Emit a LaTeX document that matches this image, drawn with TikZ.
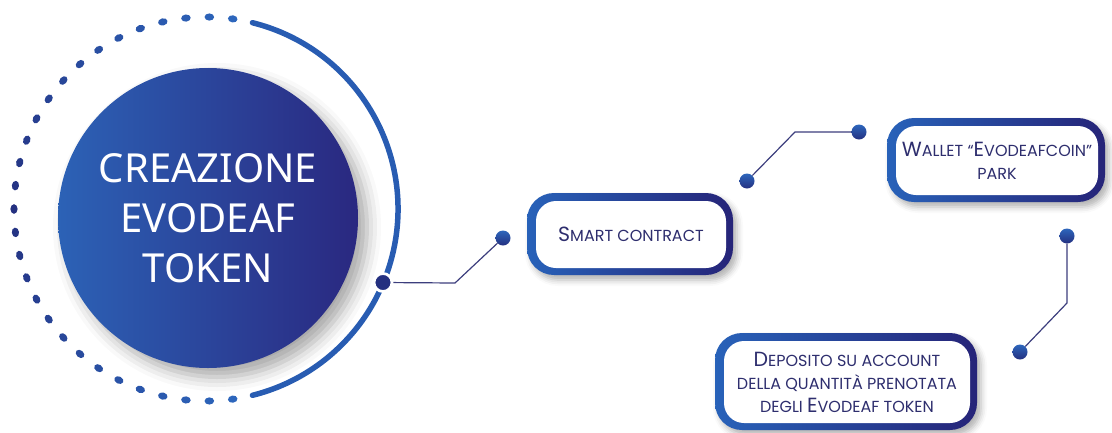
\documentclass[tikz,border=0pt]{standalone}
\usepackage{fontspec}
\usetikzlibrary{shadows.blur}
\newfontfamily\circfont{Noto Sans}
\newfontfamily\boxfont{Poppins}
\definecolor{cblue}{RGB}{44,98,182}
\definecolor{cnavy}{RGB}{42,40,128}
\definecolor{bblue}{RGB}{40,98,185}
\definecolor{bnavy}{RGB}{38,36,120}
\definecolor{arcblue}{RGB}{40,92,178}
\definecolor{dblue}{RGB}{45,102,188}
\definecolor{dnavy}{RGB}{36,48,128}
\definecolor{tnavy}{RGB}{46,46,110}
\definecolor{lnavy}{RGB}{60,62,125}
\newcommand\smc[1]{{\fontsize{16}{18}\selectfont\MakeUppercase{#1}}}
\begin{document}
\begin{tikzpicture}[x=1pt,y=-1pt,
  boxout/.style={rectangle, rounded corners=27pt, inner sep=0pt, left color=bblue, right color=bnavy,
    blur shadow={shadow xshift=4pt, shadow yshift=-5pt, shadow blur radius=6pt, shadow opacity=30}},
  boxin/.style={rectangle, rounded corners=20pt, inner sep=0pt, fill=white, text=tnavy, align=center,
    font=\boxfont\fontsize{20.5}{23}\selectfont},
  dotn/.style={circle, minimum size=15pt, inner sep=0pt, top color=dblue, bottom color=dnavy},
  conn/.style={draw=lnavy, line width=1.2pt}]
\useasboundingbox (0,0) rectangle (1112,432);
% main circle
\node[circle, minimum size=300pt, inner sep=0pt, left color=cblue, right color=cnavy,
  blur shadow={shadow xshift=9pt, shadow yshift=-9pt, shadow blur radius=14pt, shadow opacity=35},
  text=white, align=center, font=\circfont\fontsize{40}{50}\selectfont] (main) at (208,218)
  {CREAZIONE\\EVODEAF\\TOKEN};
% dotted ring
\foreach \i in {0,...,28} {
  \pgfmathsetmacro\ang{82+7*\i}
  \pgfmathtruncatemacro\t{abs(\ang-180)/98*100}
  \fill[dblue!\t!dnavy, shift={(206,209)}, rotate=-\ang] (192,0) ellipse (3.6 and 4.8);
}
% solid arc
\draw[arcblue, line width=5.5pt, line cap=round] (206,209) ++(-76:192) arc (-76:76:192);
% knob
\node[circle, fill=dnavy, draw=white, line width=2.8pt, minimum size=18pt, inner sep=0pt] (k) at (383,282.5) {};
% boxes
\node[boxout, minimum width=206pt, minimum height=82pt] (sco) at (630,234) {};
\node[boxin, minimum width=190pt, minimum height=67pt] (sc) at (631,234.5) {S\smc{mart contract}};
\node[boxout, minimum width=218pt, minimum height=84pt] (wo) at (996,160) {};
\node[boxin, minimum width=202pt, minimum height=69pt] (w) at (997,160.5) {W\smc{allet “}E\smc{vodeafcoin”}\\\smc{park}};
\node[boxout, minimum width=262pt, minimum height=97pt] (dpo) at (846,381.5) {};
\node[boxin, minimum width=246pt, minimum height=82pt] (dp) at (847,382) {D\smc{eposito su account}\\\smc{della quantità prenotata}\\\smc{degli }E\smc{vodeaf token}};
% dots
\node[dotn] (d1) at (503,238) {};
\node[dotn] (d2) at (747,181) {};
\node[dotn] (d3) at (859,132) {};
\node[dotn] (d4) at (1067,236) {};
\node[dotn] (d5) at (1020,352) {};
% connectors
\coordinate (b1) at (455,283);
\coordinate (b2) at (795,132);
\coordinate (b3) at (1067,303);
\draw[conn] (k) -- (b1) -- (d1);
\draw[conn] (d2) -- (b2) -- (d3);
\draw[conn] (d4) -- (b3) -- (d5);
\end{tikzpicture}
\end{document}
